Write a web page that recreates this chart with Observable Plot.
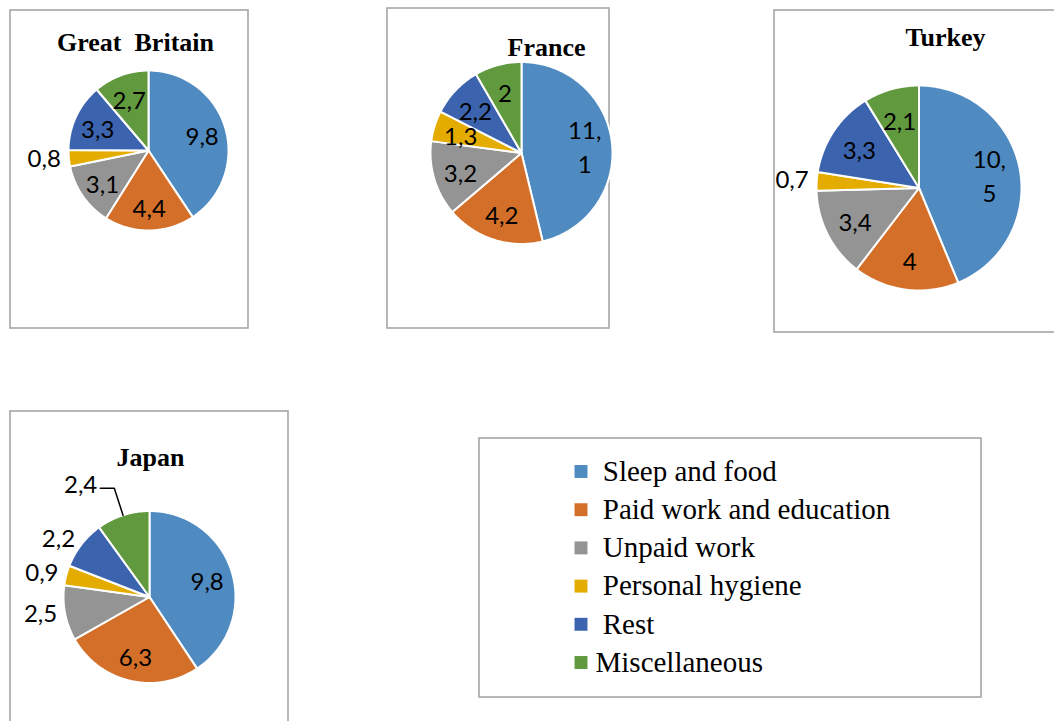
<!DOCTYPE html>
<html><head><meta charset="utf-8">
<script src="https://cdn.jsdelivr.net/npm/d3@7"></script>
<script src="https://cdn.jsdelivr.net/npm/@observablehq/plot@0.6"></script>
<style>
html,body{margin:0;padding:0;background:#fff;}
svg text{white-space:pre;}
</style></head><body><div id="chart"></div>
<script>
// ---- data ----
const categories = ["Sleep and food","Paid work and education","Unpaid work","Personal hygiene","Rest","Miscellaneous"];
const countries = ["Great  Britain","France","Turkey","Japan"];
const greatBritain = [9.8, 4.4, 3.1, 0.8, 3.3, 2.7];
const france = [11.1, 4.2, 3.2, 1.3, 2.2, 2];
const turkey = [10.5, 4, 3.4, 0.7, 3.3, 2.1];
const japan = [9.8, 6.3, 2.5, 0.9, 2.2, 2.4];
const colors = ["#4F8BC1","#D46F2A","#949494","#E5AC00","#3C64AE","#61993F"];

// ---- layout ----
const W = 1054, H = 721;
const panels = [
  {values: greatBritain, cx:148, cy:150, r:80, box:[10,10,248,328], tx:135, ty:50, outsideBelow:1},
  {values: france, cx:521, cy:152.5, r:91, box:[387,8,609,328], tx:546, ty:55, outsideBelow:1},
  {values: turkey, cx:918.5, cy:187.5, r:102.5, box:[774,10,1064,332], tx:945, ty:45, outsideBelow:1},
  {values: japan, cx:149, cy:596.5, r:86, box:[10,411,288,735], tx:150, ty:465, outsideBelow:3, leader:5}
];
const legendBox = {x1:479, y1:438, x2:981, y2:697};
const legendX = 580.5, legendTextX = 595, legendY0 = 471, legendStep = 38.2;

const fmt = v => {
  let s = String(v).replace(".", ",");
  if (v >= 10) s = s.replace(",", ",\n");
  return s;
};

const slices = [], inLabels = [], outLabels = [], leaders = [], titles = [], boxes = [];
panels.forEach((p, pi) => {
  boxes.push({x1:p.box[0], y1:p.box[1], x2:p.box[2], y2:p.box[3]});
  titles.push({x:p.tx, y:p.ty, text:countries[pi]});
  const arcs = d3.pie().sort(null).value(d => d)(p.values);
  arcs.forEach((a, i) => {
    const key = pi + "-" + i, cat = categories[i];
    const n = Math.max(2, Math.ceil((a.endAngle - a.startAngle) / 0.02));
    slices.push({key, cat, x:p.cx, y:p.cy});
    for (let k = 0; k <= n; k++) {
      const t = a.startAngle + (a.endAngle - a.startAngle) * k / n;
      slices.push({key, cat, x:p.cx + p.r*Math.sin(t), y:p.cy - p.r*Math.cos(t)});
    }
    slices.push({key, cat, x:p.cx, y:p.cy});
    const mid = (a.startAngle + a.endAngle) / 2;
    const sx = Math.sin(mid), sy = -Math.cos(mid);
    const v = p.values[i];
    if (p.leader === i) {
      const ex = p.cx + p.r*sx, ey = p.cy + p.r*sy;
      const bx = p.cx + 1.33*p.r*sx, by = p.cy + 1.33*p.r*sy;
      const hx = bx - 14;
      leaders.push({key, x:ex, y:ey}, {key, x:bx, y:by}, {key, x:hx, y:by});
      outLabels.push({x:hx - 3, y:by - 3, text:fmt(v)});
    } else if (v < p.outsideBelow) {
      outLabels.push({x:p.cx + (p.r+8)*sx, y:p.cy + (p.r+8)*sy, text:fmt(v)});
    } else {
      inLabels.push({x:p.cx + 0.7*p.r*sx, y:p.cy + 0.7*p.r*sy, text:fmt(v)});
    }
  });
});

const chart = Plot.plot({
  width: W, height: H, margin: 0,
  x: {domain:[0, W], range:[0, W], axis:null},
  y: {domain:[0, H], range:[0, H], axis:null},
  color: {domain: categories, range: colors},
  style: {background:"#fff"},
  marks: [
    Plot.rect(boxes, {x1:"x1", y1:"y1", x2:"x2", y2:"y2", fill:"none", stroke:"#A6A6A6", strokeWidth:1.6}),
    Plot.rect([legendBox], {x1:"x1", y1:"y1", x2:"x2", y2:"y2", fill:"none", stroke:"#A6A6A6", strokeWidth:1.6}),
    Plot.line(slices, {x:"x", y:"y", z:"key", fill:"cat", stroke:"#fff", strokeWidth:2, strokeLinejoin:"round", curve:"linear"}),
    Plot.line(leaders, {x:"x", y:"y", z:"key", stroke:"#000", strokeWidth:1.5}),
    Plot.text(inLabels, {x:"x", y:"y", text:"text", fontFamily:"Lato", fontSize:24, lineHeight:1.4, fill:"#000"}),
    Plot.text(outLabels, {x:"x", y:"y", text:"text", textAnchor:"end", fontFamily:"Lato", fontSize:24, fill:"#000"}),
    Plot.text(titles, {x:"x", y:"y", text:"text", lineAnchor:"bottom", fontFamily:"Liberation Serif", fontWeight:"bold", fontSize:26, fill:"#000"}),
    Plot.dot(categories, {x:() => legendX, y:(d, i) => legendY0 + i*legendStep, symbol:"square", r:7.3, fill:d => d, stroke:"none"}),
    Plot.text(categories, {x:() => legendTextX, y:(d, i) => legendY0 + i*legendStep, text:d => d === "Miscellaneous" ? d : " " + d, textAnchor:"start", fontFamily:"Liberation Serif", fontSize:29, fill:"#000"})
  ]
});
document.getElementById("chart").appendChild(chart);
</script></body></html>
